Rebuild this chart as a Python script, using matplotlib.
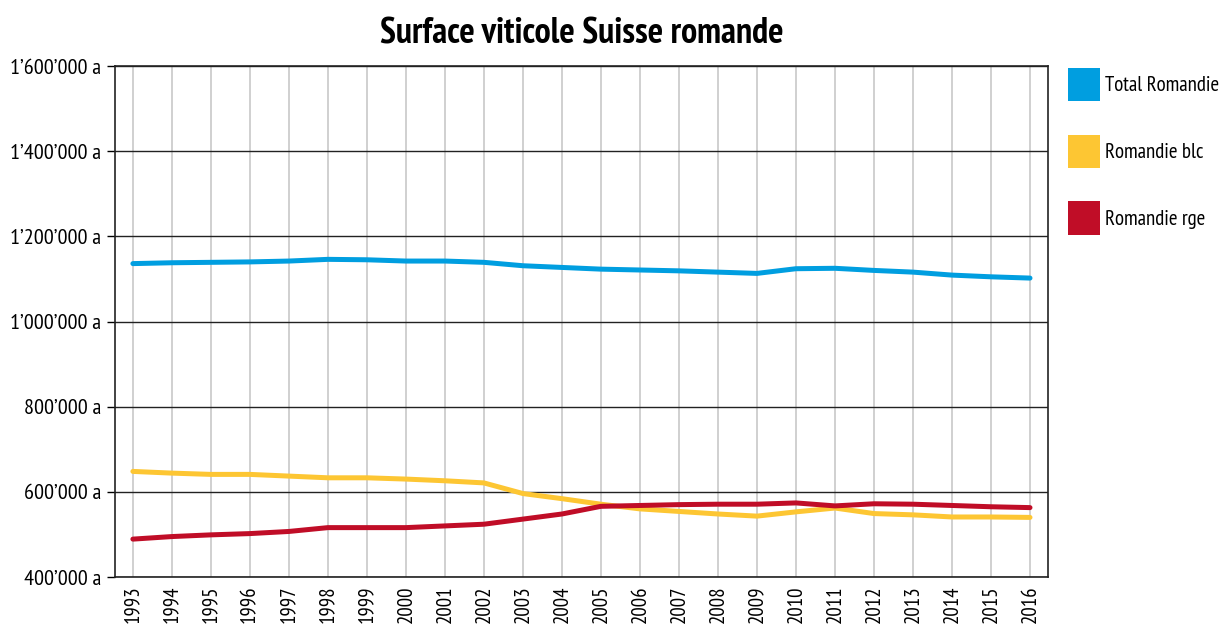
import matplotlib
matplotlib.use("Agg")
import matplotlib.pyplot as plt
from matplotlib.patches import Patch
from matplotlib.ticker import FuncFormatter

plt.rcParams['font.family'] = ['PT Sans Narrow', 'DejaVu Sans']

years = list(range(1993, 2017))
total_romandie = [1136000, 1138000, 1139000, 1140000, 1142000, 1146000, 1145000, 1142000,
                  1142000, 1139000, 1131000, 1127000, 1123000, 1121000, 1119000, 1116000,
                  1113000, 1124000, 1125000, 1120000, 1116000, 1109000, 1105000, 1102000]
romandie_blc = [648000, 644000, 641000, 641000, 637000, 633000, 633000, 630000,
                626000, 621000, 596000, 584000, 571000, 560000, 554000, 548000,
                543000, 553000, 562000, 549000, 546000, 541000, 541000, 540000]
romandie_rge = [489000, 495000, 499000, 502000, 507000, 516000, 516000, 516000,
                520000, 524000, 536000, 548000, 566000, 568000, 570000, 571000,
                571000, 574000, 567000, 572000, 571000, 568000, 565000, 563000]

series = [
    ("Total Romandie", total_romandie, "#009EE0"),
    ("Romandie blc", romandie_blc, "#FDC633"),
    ("Romandie rge", romandie_rge, "#C00D27"),
]

fig = plt.figure(figsize=(12.32, 6.3), dpi=100)
ax = fig.add_axes([0.0933, 0.0841, 0.7573, 0.8111])

for label, values, color in series:
    ax.plot(years, values, color=color, linewidth=3.6, solid_capstyle="round", label=label, zorder=3)

ax.set_xlim(1992.54, 2016.46)
ax.set_ylim(400000, 1600000)
ax.set_xticks(years)
ax.set_xticklabels([str(y) for y in years], rotation=90, fontsize=15)
ax.set_yticks(range(400000, 1600001, 200000))


def fmt(v, pos):
    s = f"{int(v):,}".replace(",", "\u2019")
    return s + " a"


ax.yaxis.set_major_formatter(FuncFormatter(fmt))
ax.tick_params(axis='y', labelsize=16, length=6, direction='out', width=1, pad=4)
ax.tick_params(axis='x', length=0, pad=6)

ax.grid(axis='x', color='#c8c8c8', linewidth=1.2, zorder=0)
ax.grid(axis='y', color='#222222', linewidth=1.0, zorder=1)
ax.set_axisbelow(True)
for sp in ax.spines.values():
    sp.set_color('#222222')
    sp.set_linewidth(1.2)

ax.set_title("Surface viticole Suisse romande", fontsize=26, fontweight='bold', pad=16)

handles = [Patch(facecolor=c, edgecolor='none', label=l) for l, _, c in series]
ax.legend(handles=handles, loc='upper left', bbox_to_anchor=(1.013, 1.013), frameon=False,
          fontsize=15, handlelength=1.5, handleheight=2.1, labelspacing=1.6,
          handletextpad=0.25, borderaxespad=0)

fig.savefig("out.png", dpi=100)
